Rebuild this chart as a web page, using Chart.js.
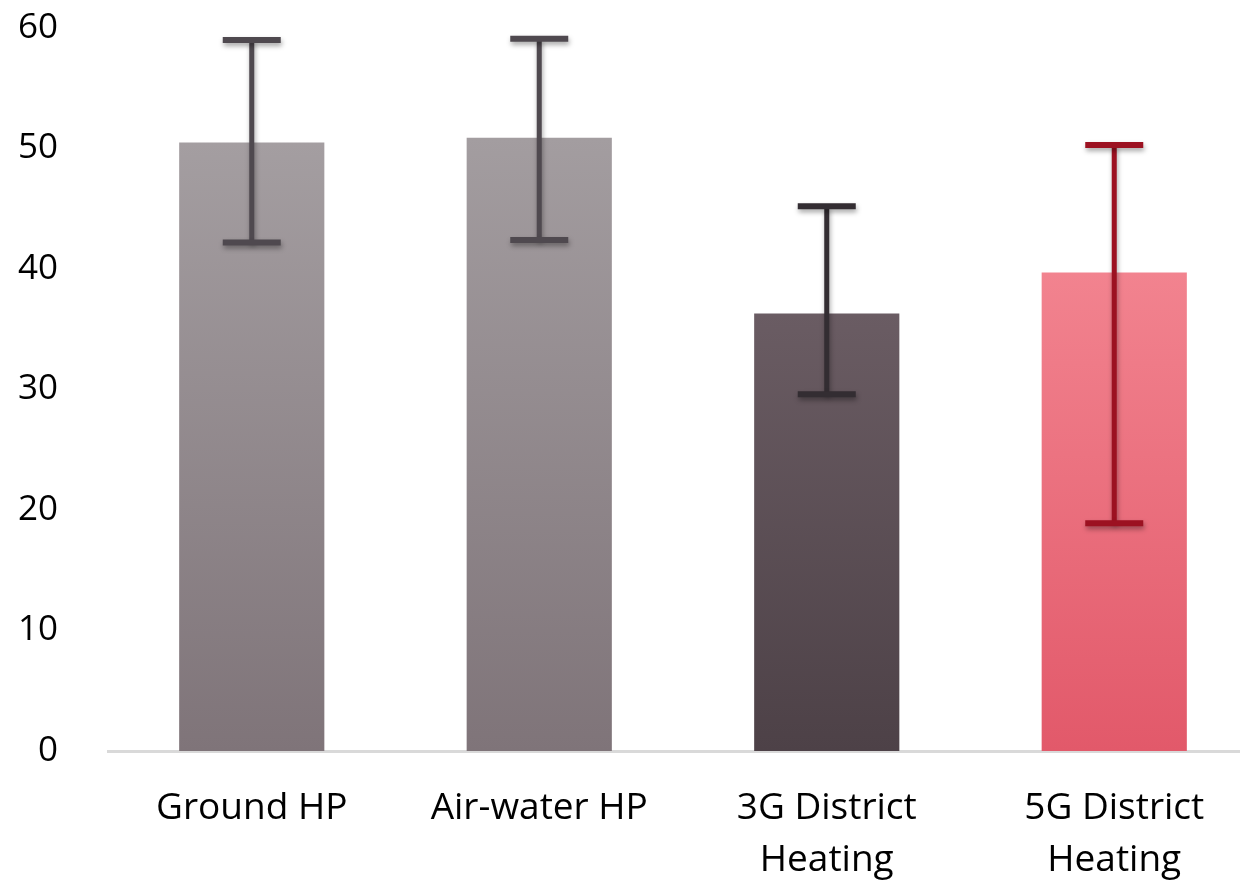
<!DOCTYPE html>
<html>
<head>
<meta charset="utf-8">
<script src="https://cdn.jsdelivr.net/npm/chart.js@4/dist/chart.umd.min.js"></script>
<style>
  html, body { margin: 0; padding: 0; background: #fff; overflow: hidden; }
  #wrap { width: 1258px; height: 880px; }
</style>
</head>
<body>
<div id="wrap"><canvas id="c" width="1258" height="880"></canvas></div>
<script>
const categories = [["Ground HP"], ["Air-water HP"], ["3G District", "Heating"], ["5G District", "Heating"]];
const meanValues = [50.5, 50.9, 36.3, 39.7];
const errorLow = [42.2, 42.4, 29.6, 18.9];
const errorHigh = [59.0, 59.1, 45.2, 50.3];
const yTicks = [0, 10, 20, 30, 40, 50, 60];

const barTopColors = ["#a49ea1", "#a39da0", "#6a5c63", "#f2838f"];
const barBottomColors = ["#7f7479", "#7f7479", "#4d4147", "#e2596a"];
const errorColors = ["#4f494f", "#4f494f", "#332d32", "#9c1121"];

const FONT = "'Open Sans', 'DejaVu Sans', sans-serif";

const errorBarPlugin = {
  id: 'errorBars',
  afterDatasetsDraw(chart) {
    const ctx = chart.ctx;
    const meta = chart.getDatasetMeta(0);
    const y = chart.scales.y;
    meta.data.forEach((bar, i) => {
      const x = bar.x;
      const yHi = y.getPixelForValue(errorHigh[i]);
      const yLo = y.getPixelForValue(errorLow[i]);
      const capHalf = 29;
      ctx.save();
      ctx.strokeStyle = errorColors[i];
      ctx.shadowColor = 'rgba(0,0,0,0.35)';
      ctx.shadowBlur = 5;
      ctx.shadowOffsetX = 1;
      ctx.shadowOffsetY = 3;
      ctx.lineCap = 'butt';
      ctx.lineWidth = 5;
      ctx.beginPath();
      ctx.moveTo(x, yHi);
      ctx.lineTo(x, yLo);
      ctx.stroke();
      ctx.lineWidth = 6;
      ctx.beginPath();
      ctx.moveTo(x - capHalf, yHi);
      ctx.lineTo(x + capHalf, yHi);
      ctx.moveTo(x - capHalf, yLo);
      ctx.lineTo(x + capHalf, yLo);
      ctx.stroke();
      ctx.restore();
    });
  }
};

function barGradient(context) {
  const chart = context.chart;
  const i = context.dataIndex;
  const area = chart.chartArea;
  if (!area) return barTopColors[i];
  const y = chart.scales.y;
  const top = y.getPixelForValue(meanValues[i]);
  const bottom = y.getPixelForValue(0);
  const g = chart.ctx.createLinearGradient(0, top, 0, bottom);
  g.addColorStop(0, barTopColors[i]);
  g.addColorStop(1, barBottomColors[i]);
  return g;
}

new Chart(document.getElementById('c'), {
  type: 'bar',
  data: {
    labels: categories,
    datasets: [{
      data: meanValues,
      backgroundColor: barGradient,
      borderWidth: 0,
      categoryPercentage: 1.0,
      barPercentage: 0.505
    }]
  },
  options: {
    responsive: false,
    animation: false,
    events: [],
    layout: { padding: { top: 28, right: 0, bottom: 0, left: 0 } },
    plugins: { legend: { display: false }, tooltip: { enabled: false } },
    scales: {
      x: {
        grid: { display: false, drawTicks: false },
        border: { display: true, color: '#d9d9d9', width: 3 },
        ticks: {
          color: '#000',
          font: { family: FONT, size: 37, lineHeight: 1.4 },
          padding: 32,
          maxRotation: 0,
          autoSkip: false
        },
        afterFit(scale) { scale.height = 129; scale.paddingLeft = 0; scale.paddingRight = 0; }
      },
      y: {
        min: 0,
        max: 60,
        afterBuildTicks(scale) { scale.ticks = yTicks.map(v => ({ value: v })); },
        grid: { display: false, drawTicks: false },
        border: { display: false },
        ticks: {
          color: '#000',
          font: { family: FONT, size: 35 },
          padding: 50
        },
        afterFit(scale) { scale.width = 108; scale.paddingTop = 0; scale.paddingBottom = 0; }
      }
    }
  },
  plugins: [errorBarPlugin]
});
</script>
</body>
</html>
